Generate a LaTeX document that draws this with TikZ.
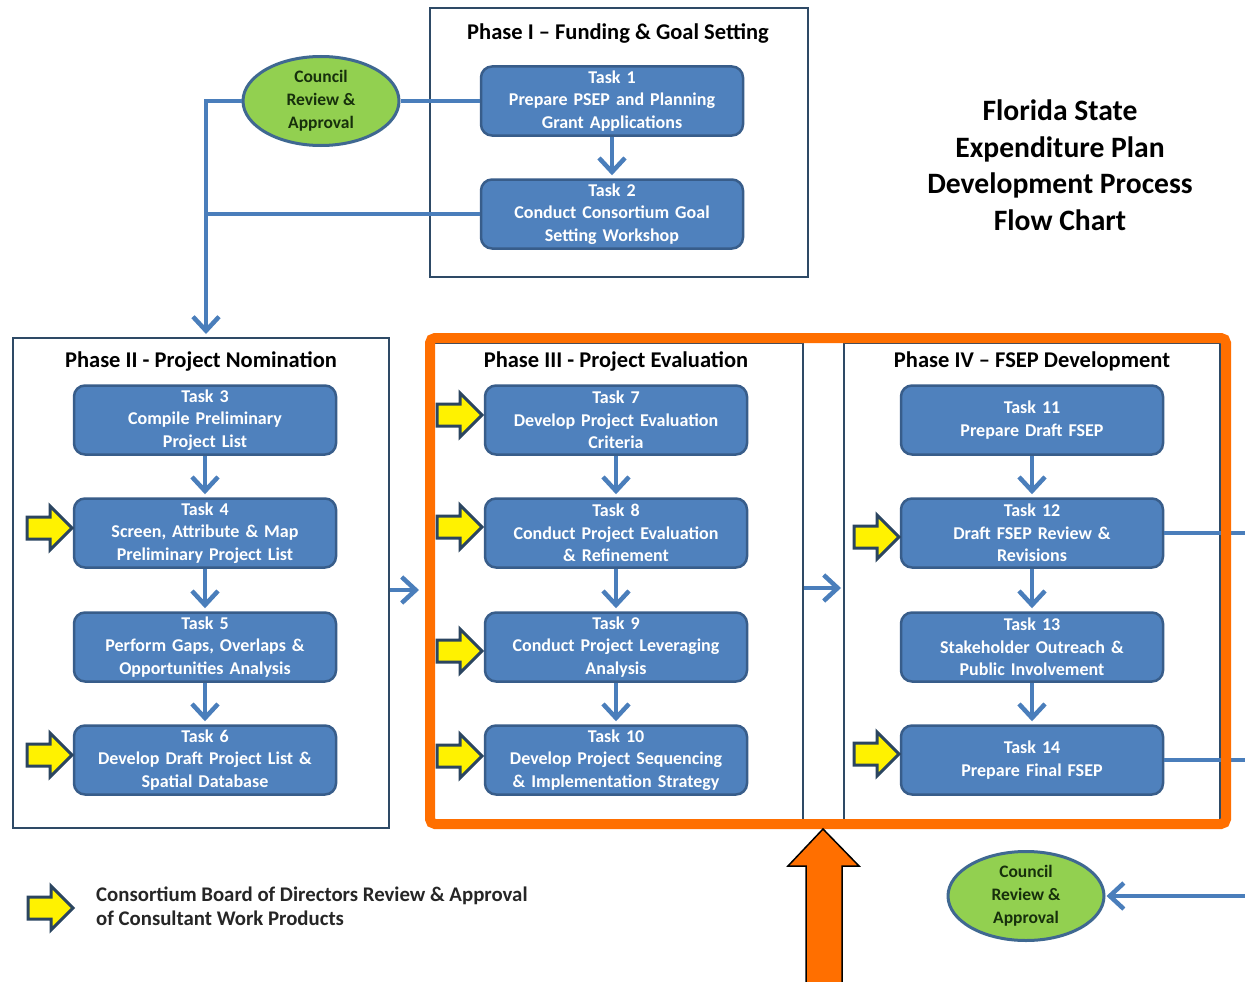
\documentclass[tikz,border=0pt]{standalone}
\usepackage{fontspec}
\setmainfont{Carlito}
\usetikzlibrary{shapes.geometric,arrows.meta}
\definecolor{taskfill}{HTML}{4F81BD}
\definecolor{taskborder}{HTML}{385D8A}
\definecolor{connblue}{HTML}{4A7EBB}
\definecolor{phaseborder}{HTML}{2E4A66}
\definecolor{orangeb}{HTML}{FF6F00}
\definecolor{greenfill}{HTML}{92D050}
\definecolor{greenborder}{HTML}{3F6891}
\definecolor{yarrowborder}{HTML}{2B4560}
\definecolor{ellipsetext}{HTML}{17300C}
\tikzset{
  yarrow/.pic={\draw[fill=yellow, draw=yarrowborder, line width=3pt, line join=miter]
     (0,0) -- (-22,-22) -- (-22,-11) -- (-45,-11) -- (-45,11) -- (-22,11) -- (-22,22) -- cycle;},
  task/.style={draw=taskborder, fill=taskfill, line width=2.5pt, rounded corners=11pt,
     minimum width=262pt, minimum height=69pt, text width=258pt, align=center,
     text=white, font=\bfseries\fontsize{18}{22.5}\selectfont, inner sep=0pt},
  phasebox/.style={draw=phaseborder, line width=2pt, inner sep=0pt},
  phasetitle/.style={font=\bfseries\fontsize{22.5}{27}\selectfont, anchor=base, inner sep=0pt},
  council/.style={ellipse, draw=greenborder, fill=greenfill, line width=3pt,
     minimum width=156pt, minimum height=89pt, inner sep=0pt, align=center,
     text=ellipsetext, font=\bfseries\fontsize{17.5}{23}\selectfont},
  link/.style={draw=connblue, line width=4.5pt},
  arr/.style={link, -{Straight Barb[length=14pt,width=26pt]}},
}
\begin{document}
\begin{tikzpicture}[x=1pt,y=-1pt]
\useasboundingbox (0,0) rectangle (1245,982);
\fill[white] (0,0) rectangle (1245,982);

% phase boxes
\node[phasebox, minimum width=378pt, minimum height=269pt] (p1) at (619,142.5) {};
\node[phasebox, minimum width=376pt, minimum height=490pt] (p2) at (201,583) {};
\node[phasebox, minimum width=370pt, minimum height=477pt] (p3) at (618,581.5) {};
\node[phasebox, minimum width=376pt, minimum height=477pt] (p4) at (1032,581.5) {};

\node[phasetitle] (p1t) at (618,40) {Phase I -- Funding \& Goal Setting};
\node[phasetitle] (p2t) at (201,367) {Phase II - Project Nomination};
\node[phasetitle] (p3t) at (616,367) {Phase III - Project Evaluation};
\node[phasetitle] (p4t) at (1032,367) {Phase IV -- FSEP Development};

% tasks
\node[task] (t1) at (612,101) {Task 1\\Prepare PSEP and Planning\\Grant Applications};
\node[task] (t2) at (612,214) {Task 2\\Conduct Consortium Goal\\Setting Workshop};
\node[task] (t3) at (205,420) {Task 3\\Compile Preliminary\\Project List};
\node[task] (t4) at (205,533) {Task 4\\Screen, Attribute \& Map\\Preliminary Project List};
\node[task] (t5) at (205,647) {Task 5\\Perform Gaps, Overlaps \&\\Opportunities Analysis};
\node[task] (t6) at (205,760) {Task 6\\Develop Draft Project List \&\\Spatial Database};
\node[task] (t7) at (616,420) {Task 7\\Develop Project Evaluation\\Criteria};
\node[task] (t8) at (616,533) {Task 8\\Conduct Project Evaluation\\\& Refinement};
\node[task] (t9) at (616,647) {Task 9\\Conduct Project Leveraging\\Analysis};
\node[task] (t10) at (616,760) {Task 10\\Develop Project Sequencing\\\& Implementation Strategy};
\node[task] (t11) at (1032,420) {Task 11\\Prepare Draft FSEP};
\node[task] (t12) at (1032,533) {Task 12\\Draft FSEP Review \&\\Revisions};
\node[task] (t13) at (1032,647) {Task 13\\Stakeholder Outreach \&\\Public Involvement};
\node[task] (t14) at (1032,760) {Task 14\\Prepare Final FSEP};

% council ellipses
\node[council] (c1) at (321,101) {Council\\Review \&\\Approval};
\node[council] (c2) at (1026,896) {Council\\Review \&\\Approval};

% connectors
\coordinate (p2in) at (206,334);
\coordinate (row2) at (0,590);
\coordinate (row3) at (0,588);
\coordinate (e12) at (1245,533);
\coordinate (e2) at (1245,896);
\draw[link] (c1.east) -- (t1.west);
\draw[arr] (c1.west) -| (p2in);
\draw[link] (t2.west) -- (t2.west -| p2in);
\draw[arr, shorten >=3pt] (t1.south) -- (t2.north);
\draw[arr, shorten >=3pt] (t3.south) -- (t4.north);
\draw[arr, shorten >=3pt] (t4.south) -- (t5.north);
\draw[arr, shorten >=3pt] (t5.south) -- (t6.north);
\draw[arr, shorten >=3pt] (t7.south) -- (t8.north);
\draw[arr, shorten >=3pt] (t8.south) -- (t9.north);
\draw[arr, shorten >=3pt] (t9.south) -- (t10.north);
\draw[arr, shorten >=3pt] (t11.south) -- (t12.north);
\draw[arr, shorten >=3pt] (t12.south) -- (t13.north);
\draw[arr, shorten >=3pt] (t13.south) -- (t14.north);
\draw[link] (t12.east) -- (e12);
\draw[link] (t14.east) -- (t14.east -| e12);
\draw[arr, shorten >=1pt] (e2) -- (c2.east);
\draw[arr, shorten >=2pt] (p3.east |- row3) -- (p4.west |- row3);

% yellow review arrows
\pic at (72,528) {yarrow};
\pic at (72,755) {yarrow};
\pic at (482,415) {yarrow};
\pic at (482,527) {yarrow};
\pic at (482,651) {yarrow};
\pic at (482,756) {yarrow};
\pic at (899,537) {yarrow};
\pic at (899,754) {yarrow};

% orange frame
\node[draw=orangeb, line width=10pt, rounded corners=5pt, minimum width=796pt,
      minimum height=486pt, inner sep=0pt] (obox) at (828,581) {};
\draw[arr, shorten >=6pt] (p2.east |- row2) -- (obox.west |- row2);

% big orange arrow
\draw[fill=orangeb, draw=black, line width=1.5pt, line join=miter]
  (823,829) -- (859,866) -- (842,866) -- (842,992) -- (806,992) -- (806,866) -- (788,866) -- cycle;

% legend
\pic at (73,908) {yarrow};
\node[anchor=west, align=left, inner sep=0pt, font=\bfseries\fontsize{20.8}{24}\selectfont, text=black!85] (legend) at (96,906)
  {Consortium Board of Directors Review \& Approval\\of Consultant Work Products};

% title
\node[font=\bfseries\fontsize{29.6}{36.5}\selectfont, align=center, inner sep=0pt] (title) at (1060,165)
  {Florida State\\Expenditure Plan\\Development Process\\Flow Chart};
\end{tikzpicture}
\end{document}
